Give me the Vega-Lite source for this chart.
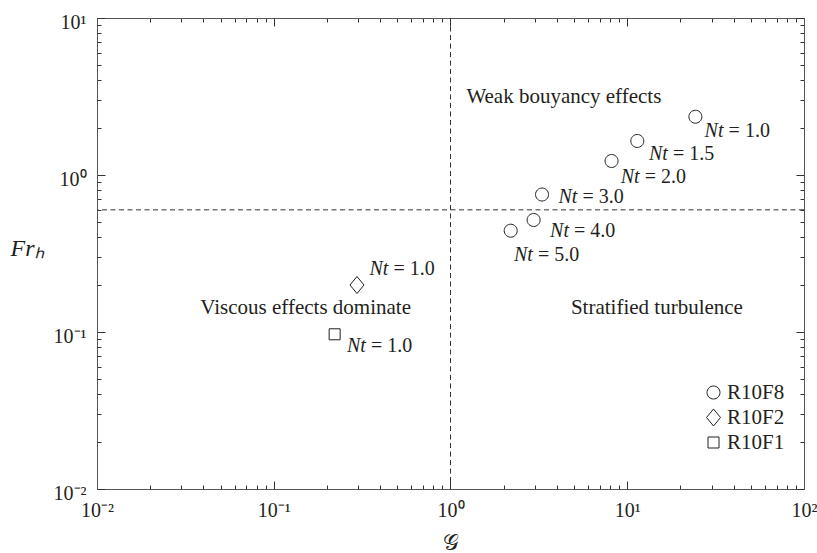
{
  "$schema": "https://vega.github.io/schema/vega-lite/v6.json",
  "width": 707,
  "height": 471,
  "autosize": "none",
  "padding": {"left": 97, "top": 18, "right": 13, "bottom": 64},
  "config": {
    "view": {"stroke": "#555555", "strokeWidth": 1},
    "font": "Liberation Serif",
    "axis": {
      "grid": false,
      "domainColor": "#555555",
      "domainWidth": 1,
      "tickColor": "#333333",
      "tickWidth": 1,
      "labelFont": "Liberation Serif",
      "labelFontSize": 20,
      "labelColor": "#231f20",
      "labelOverlap": false,
      "labelBound": false,
      "labelFlush": false,
      "titleFont": "Liberation Serif",
      "titleColor": "#231f20",
      "titleFontWeight": "normal"
    }
  },
  "datasets": {
    "points": [
      {"G": 24.3, "Fr": 2.351, "run": "R10F8"},
      {"G": 11.4, "Fr": 1.647, "run": "R10F8"},
      {"G": 8.15, "Fr": 1.228, "run": "R10F8"},
      {"G": 3.295, "Fr": 0.751, "run": "R10F8"},
      {"G": 2.953, "Fr": 0.517, "run": "R10F8"},
      {"G": 2.191, "Fr": 0.4418, "run": "R10F8"},
      {"G": 0.2957, "Fr": 0.1992, "run": "R10F2"},
      {"G": 0.2211, "Fr": 0.0967, "run": "R10F1"}
    ],
    "labels": [
      {"lx": 27.4, "ly": 1.915, "rest": "= 1.0"},
      {"lx": 13.26, "ly": 1.361, "rest": "= 1.5"},
      {"lx": 9.18, "ly": 0.967, "rest": "= 2.0"},
      {"lx": 4.08, "ly": 0.721, "rest": "= 3.0"},
      {"lx": 3.66, "ly": 0.4397, "rest": "= 4.0"},
      {"lx": 2.288, "ly": 0.3093, "rest": "= 5.0"},
      {"lx": 0.348, "ly": 0.2507, "rest": "= 1.0"},
      {"lx": 0.2596, "ly": 0.0815, "rest": "= 1.0"}
    ],
    "regions": [
      {"rx": 4.38, "ry": 3.154, "text": "Weak bouyancy effects"},
      {"rx": 0.1515, "ry": 0.1428, "text": "Viscous effects dominate"},
      {"rx": 14.72, "ry": 0.1428, "text": "Stratified turbulence"}
    ]
  },
  "layer": [
    {
      "data": {"values": [{"g": 1}]},
      "mark": {"type": "rule", "color": "#333333", "strokeWidth": 1, "strokeDash": [5, 3.5]},
      "encoding": {
        "x": {
          "field": "g", "type": "quantitative",
          "scale": {"type": "log", "domain": [0.01, 100], "nice": false},
          "axis": {
            "orient": "top", "title": null, "labels": false,
            "tickSize": {"condition": {"test": "abs(log(datum.value)/LN10 - round(log(datum.value)/LN10)) < 1e-6", "value": -8}, "value": -4}
          }
        }
      }
    },
    {
      "data": {"values": [{"f": 0.6}]},
      "mark": {"type": "rule", "color": "#333333", "strokeWidth": 1, "strokeDash": [5, 3.5]},
      "encoding": {
        "y": {
          "field": "f", "type": "quantitative",
          "scale": {"type": "log", "domain": [0.01, 10], "nice": false},
          "axis": {
            "orient": "right", "title": null, "labels": false,
            "tickSize": {"condition": {"test": "abs(log(datum.value)/LN10 - round(log(datum.value)/LN10)) < 1e-6", "value": -8}, "value": -4}
          }
        }
      }
    },
    {
      "data": {"name": "points"},
      "mark": {"type": "point", "filled": false, "stroke": "#231f20", "strokeWidth": 1, "opacity": 1, "size": 400},
      "encoding": {
        "x": {
          "field": "G", "type": "quantitative",
          "scale": {"type": "log", "domain": [0.01, 100], "nice": false},
          "axis": {
            "orient": "bottom", "title": "𝒢", "titleFontSize": 22,
            "labelExpr": "abs(log(datum.value)/LN10 - round(log(datum.value)/LN10)) < 1e-6 ? '10' + replace(replace(replace(replace('' + round(log(datum.value)/LN10), '-', '⁻'), '0', '⁰'), '1', '¹'), '2', '²') : ''",
            "labelPadding": 19,
            "titlePadding": 8,
            "tickSize": {"condition": {"test": "abs(log(datum.value)/LN10 - round(log(datum.value)/LN10)) < 1e-6", "value": -8}, "value": -4}
          }
        },
        "y": {
          "field": "Fr", "type": "quantitative",
          "scale": {"type": "log", "domain": [0.01, 10], "nice": false},
          "axis": {
            "orient": "left", "title": "Frₕ", "titleFontSize": 24, "titleFontStyle": "italic",
            "titleAngle": 0, "titleAlign": "left", "titleBaseline": "middle",
            "titleX": -87, "titleY": 230,
            "labelExpr": "abs(log(datum.value)/LN10 - round(log(datum.value)/LN10)) < 1e-6 ? '10' + replace(replace(replace(replace('' + round(log(datum.value)/LN10), '-', '⁻'), '0', '⁰'), '1', '¹'), '2', '²') : ''",
            "labelPadding": 19,
            "labelOffset": 4,
            "tickSize": {"condition": {"test": "abs(log(datum.value)/LN10 - round(log(datum.value)/LN10)) < 1e-6", "value": -8}, "value": -4}
          }
        },
        "shape": {
          "field": "run", "type": "nominal",
          "scale": {
            "domain": ["R10F8", "R10F2", "R10F1"],
            "range": [
              "M0.65,0A0.65,0.65 0 1,1 -0.65,0A0.65,0.65 0 1,1 0.65,0Z",
              "M0,-0.85L0.7,0L0,0.85L-0.7,0Z",
              "M-0.55,-0.55L0.55,-0.55L0.55,0.55L-0.55,0.55Z"
            ]
          },
          "legend": {
            "title": null, "orient": "none", "legendX": 606, "legendY": 364,
            "labelFont": "Liberation Serif", "labelFontSize": 21, "labelColor": "#231f20",
            "symbolStrokeColor": "#231f20", "symbolFillColor": "transparent", "symbolStrokeWidth": 1,
            "symbolSize": 400,
            "labelOffset": 3, "rowPadding": 3, "padding": 0
          }
        }
      }
    },
    {
      "data": {"name": "labels"},
      "mark": {"type": "text", "font": "Liberation Serif", "fontSize": 20, "fontStyle": "italic", "align": "left", "baseline": "middle", "color": "#231f20"},
      "encoding": {
        "x": {"field": "lx", "type": "quantitative", "scale": {"type": "log", "domain": [0.01, 100], "nice": false}, "axis": null},
        "y": {"field": "ly", "type": "quantitative", "scale": {"type": "log", "domain": [0.01, 10], "nice": false}, "axis": null},
        "text": {"value": "Nt"}
      }
    },
    {
      "data": {"name": "labels"},
      "mark": {"type": "text", "font": "Liberation Serif", "fontSize": 20, "align": "left", "baseline": "middle", "dx": 24, "color": "#231f20"},
      "encoding": {
        "x": {"field": "lx", "type": "quantitative", "scale": {"type": "log", "domain": [0.01, 100], "nice": false}, "axis": null},
        "y": {"field": "ly", "type": "quantitative", "scale": {"type": "log", "domain": [0.01, 10], "nice": false}, "axis": null},
        "text": {"field": "rest"}
      }
    },
    {
      "data": {"name": "regions"},
      "mark": {"type": "text", "font": "Liberation Serif", "fontSize": 21, "align": "center", "baseline": "middle", "color": "#231f20"},
      "encoding": {
        "x": {"field": "rx", "type": "quantitative", "scale": {"type": "log", "domain": [0.01, 100], "nice": false}, "axis": null},
        "y": {"field": "ry", "type": "quantitative", "scale": {"type": "log", "domain": [0.01, 10], "nice": false}, "axis": null},
        "text": {"field": "text"}
      }
    }
  ]
}
